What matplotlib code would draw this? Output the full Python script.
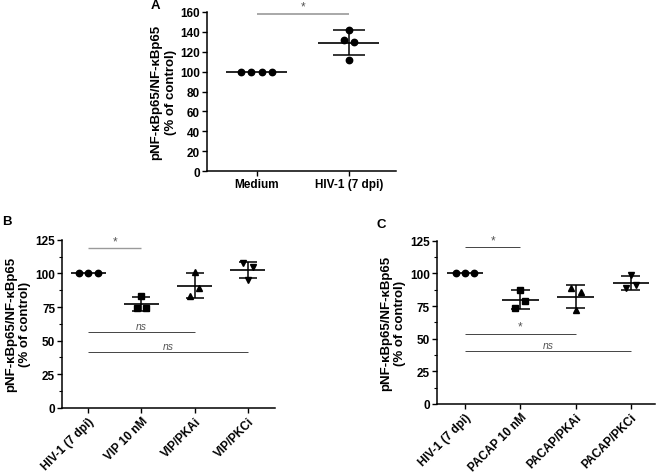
import numpy as np
import matplotlib
matplotlib.use("Agg")
import matplotlib as mpl
from matplotlib import pyplot as plt
from matplotlib.ticker import MultipleLocator

mpl.rcParams["font.family"] = ["Liberation Sans", "DejaVu Sans"]
mpl.rcParams["font.size"] = 8.5

YLABEL = "pNF-\u03baBp65/NF-\u03baBp65\n(% of control)"

# panel A
a_groups = ["Medium", "HIV-1 (7 dpi)"]
a_medium = [100, 100, 100, 100]
a_hiv = [142, 132, 130, 112]
a_jitter = [[-0.17, -0.057, 0.057, 0.17], [0, -0.055, 0.05, 0]]

# panel B
b_groups = ["HIV-1 (7 dpi)", "VIP 10 nM", "VIP/PKAi", "VIP/PKCi"]
b_hiv = [100, 100, 100]
b_vip = [83, 74, 74]
b_pkai = [101, 89, 83]
b_pkci = [107.5, 104.5, 95.5]
b_jitter = [[-0.18, 0, 0.18], [0, -0.09, 0.09], [0, 0.09, -0.09], [-0.09, 0.1, 0]]

# panel C
c_groups = ["HIV-1 (7 dpi)", "PACAP 10 nM", "PACAP/PKAi", "PACAP/PKCi"]
c_hiv = [100, 100, 100]
c_pacap = [87.5, 79, 73.5]
c_pkai = [88.5, 86, 72]
c_pkci = [99, 91.5, 88.5]
c_jitter = [[-0.17, 0, 0.17], [0, 0.09, -0.09], [-0.085, 0.1, 0], [0, 0.09, -0.08]]

MARKERS = ["o", "s", "^", "v"]


def style_axis(ax, ylim, major, minor=None):
    for side in ["top", "right"]:
        ax.spines[side].set_visible(False)
    for side in ["left", "bottom"]:
        ax.spines[side].set_linewidth(1.1)
    ax.set_ylim(ylim)
    ax.yaxis.set_major_locator(MultipleLocator(major))
    if minor:
        ax.yaxis.set_minor_locator(MultipleLocator(minor))
    ax.tick_params(axis="both", which="major", length=3.5, width=1.0, pad=1.5)
    ax.tick_params(axis="y", which="minor", length=2, width=0.8)
    for lab in ax.get_yticklabels():
        lab.set_fontweight("bold")


def draw_group(ax, x, vals, jitter, marker):
    vals = np.array(vals, dtype=float)
    m = vals.mean()
    sd = vals.std(ddof=1)
    ax.plot(x + np.array(jitter), vals, linestyle="none", marker=marker,
            color="black", markersize=4.6, zorder=3)
    ax.hlines(m, x - 0.33, x + 0.33, color="black", lw=1.2, zorder=2)
    if sd > 0:
        ax.vlines(x, m - sd, m + sd, color="black", lw=1.1, zorder=2)
        ax.hlines([m - sd, m + sd], x - 0.17, x + 0.17, color="black", lw=1.1, zorder=2)


def sig(ax, x0, x1, y, text, dy, italic=False, color="#7a7a7a", lw=0.8):
    ax.plot([x0, x1], [y, y], color=color, lw=lw, solid_capstyle="butt")
    ax.text((x0 + x1) / 2, y + dy, text, ha="center", va="bottom",
            fontsize=7.5 if italic else 8.5,
            color="#555555", style="italic" if italic else "normal")


fig = plt.figure(figsize=(6.61, 4.77), dpi=100)

# ---- A
axA = fig.add_axes([0.313, 0.639, 0.286, 0.334])
for i, vals in enumerate([a_medium, a_hiv]):
    draw_group(axA, i, vals, a_jitter[i], "o")
axA.set_xlim(-0.54, 1.51)
axA.set_xticks([0, 1])
axA.set_xticklabels(a_groups, fontweight="bold")
style_axis(axA, (0, 160), 20)
axA.set_ylabel(YLABEL, fontweight="bold", fontsize=9.5, labelpad=2, linespacing=1.3)
sig(axA, 0, 1, 158, "*", 1.5, color="#9a9a9a", lw=1.2)

# ---- B
axB = fig.add_axes([0.094, 0.143, 0.322, 0.352])
for i, vals in enumerate([b_hiv, b_vip, b_pkai, b_pkci]):
    draw_group(axB, i, vals, b_jitter[i], MARKERS[i])
axB.set_xlim(-0.49, 3.51)
axB.set_xticks(range(4))
axB.set_xticklabels(b_groups, fontweight="bold", rotation=45, ha="right",
                    rotation_mode="anchor")
style_axis(axB, (0, 125), 25, 12.5)
axB.set_ylabel(YLABEL, fontweight="bold", fontsize=9.5, labelpad=3, linespacing=1.2)
sig(axB, 0, 1, 118.7, "*", 1.0, color="#9a9a9a", lw=1.0)
sig(axB, 0, 2, 56.3, "ns", 1.0, italic=True, color="#444444", lw=0.7)
sig(axB, 0, 3, 41.6, "ns", 1.0, italic=True, color="#444444", lw=0.7)

# ---- C
axC = fig.add_axes([0.661, 0.151, 0.33, 0.342])
for i, vals in enumerate([c_hiv, c_pacap, c_pkai, c_pkci]):
    draw_group(axC, i, vals, c_jitter[i], MARKERS[i])
axC.set_xlim(-0.51, 3.44)
axC.set_xticks(range(4))
axC.set_xticklabels(c_groups, fontweight="bold", rotation=45, ha="right",
                    rotation_mode="anchor")
style_axis(axC, (0, 125), 25, 12.5)
axC.set_ylabel(YLABEL, fontweight="bold", fontsize=9.5, labelpad=3, linespacing=1.2)
sig(axC, 0, 1, 120, "*", 1.0, color="#444444", lw=0.7)
sig(axC, 0, 2, 53.8, "*", 1.0, color="#444444", lw=0.7)
sig(axC, 0, 3, 40.5, "ns", 1.0, italic=True, color="#444444", lw=0.7)

for ax in [axA, axB, axC]:
    for child in ax.get_children():
        try:
            child.set_clip_on(False)
        except AttributeError:
            pass

fig.text(155 / 661, 1 - 6 / 477, "A", fontweight="bold", fontsize=9.5, ha="center", va="center")
fig.text(7 / 661, 1 - 222 / 477, "B", fontweight="bold", fontsize=9.5, ha="center", va="center")
fig.text(381 / 661, 1 - 225 / 477, "C", fontweight="bold", fontsize=9.5, ha="center", va="center")

fig.savefig("out.png", dpi=100)
